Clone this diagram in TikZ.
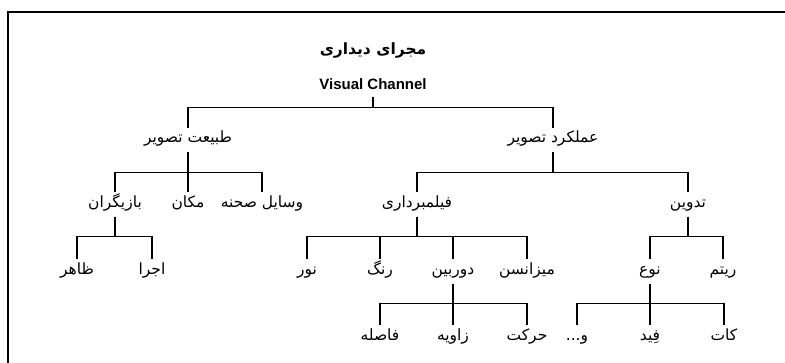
\documentclass[tikz,border=0pt]{standalone}
\usepackage{fontspec}
\setmainfont{Liberation Sans}
\newfontfamily\fafont[Script=Arabic]{DejaVu Sans}
\TeXXeTstate=1
\tikzset{
  fatext/.style={font=\fafont\fontsize{15.5}{18}\selectfont, inner xsep=2pt, inner ysep=0pt,
                 text height=15pt, text depth=9pt},
  branch/.style={line width=1.1pt},
}
\begin{document}
\begin{tikzpicture}[x=1pt,y=1pt]
    \clip (0,0) rectangle (785,362);
    \draw[line width=1.4pt] (8,350) rectangle (820,-20);
    % root
    \node[font=\fafont\bfseries\fontsize{15.5}{18}\selectfont] (title) at (373,311) {\beginR مجرای دیداری\endR};
    \node[font=\bfseries\fontsize{15}{18}\selectfont, anchor=base, inner ysep=7pt, text depth=0pt] (vc) at (373,272) {Visual Channel};
    % level 1
    \node[fatext] (nat)  at (188,222) {\beginR طبیعت تصویر\endR};
    \node[fatext] (func) at (553,222) {\beginR عملکرد تصویر\endR};
    % level 2
    \node[fatext] (actors) at (115,157.5) {\beginR بازیگران\endR};
    \node[fatext] (place)  at (188,157.5) {\beginR مکان\endR};
    \node[fatext] (props)  at (262,157.5) {\beginR وسایل صحنه\endR};
    \node[fatext] (film)   at (417,157.5) {\beginR فیلمبرداری\endR};
    \node[fatext] (edit)   at (688,157.5) {\beginR تدوین\endR};
    % level 3
    \node[fatext] (look)   at (77,90.5)  {\beginR ظاهر\endR};
    \node[fatext] (perf)   at (152,90.5) {\beginR اجرا\endR};
    \node[fatext] (light)  at (307,90.5) {\beginR نور\endR};
    \node[fatext] (color)  at (380,90.5) {\beginR رنگ\endR};
    \node[fatext] (camera) at (453,90.5) {\beginR دوربین\endR};
    \node[fatext] (mise)   at (527,90.5) {\beginR میزانسن\endR};
    \node[fatext] (type)   at (650,90.5) {\beginR نوع\endR};
    \node[fatext] (rhythm) at (723,90.5) {\beginR ریتم\endR};
    % level 4
    \node[fatext] (dist)  at (380,25) {\beginR فاصله\endR};
    \node[fatext] (angle) at (453,25) {\beginR زاویه\endR};
    \node[fatext] (move)  at (527,25) {\beginR حرکت\endR};
    \node[fatext] (etc)   at (577,25) {\beginR و...\endR};
    \node[fatext] (fade)  at (650,25) {\beginR فِید\endR};
    \node[fatext] (cut)   at (724,25) {\beginR کات\endR};
    % connectors
    \foreach \c in {nat,func}
      \draw[branch] (vc.south) -- ++(0,-10) -| (\c.north);
    \foreach \p/\c in {nat/actors,nat/place,nat/props,func/film,func/edit,
                       actors/look,actors/perf,film/light,film/color,film/camera,film/mise,
                       edit/type,edit/rhythm,camera/dist,camera/angle,camera/move,
                       type/etc,type/fade,type/cut}
      \draw[branch] (\p.south) -- ++(0,-20) -| (\c.north);
\end{tikzpicture}
\end{document}
